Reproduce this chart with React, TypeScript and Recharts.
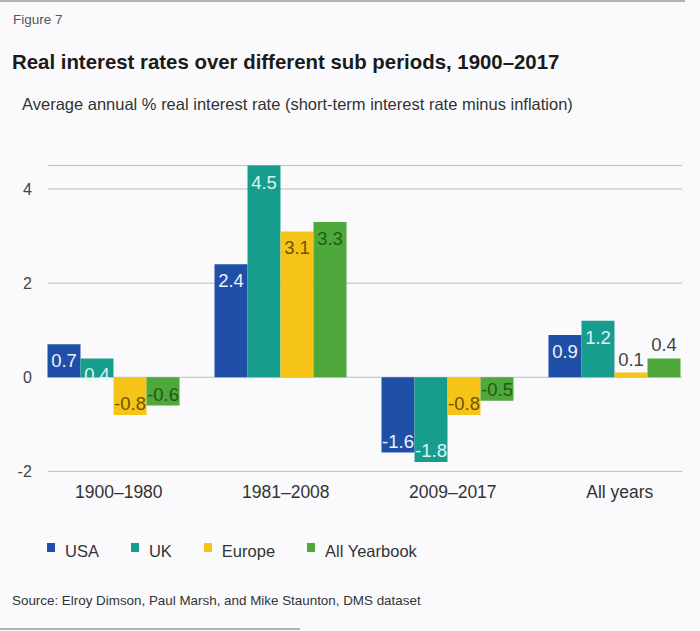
import React from "react";
import { BarChart, Bar, XAxis, YAxis, CartesianGrid, Legend, LabelList } from "recharts";

const categories = ["1900–1980", "1981–2008", "2009–2017", "All years"];
const usa = [0.7, 2.4, -1.6, 0.9];
const uk = [0.4, 4.5, -1.8, 1.2];
const europe = [-0.8, 3.1, -0.8, 0.1];
const allYearbook = [-0.6, 3.3, -0.5, 0.4];
const yTicks = [-2, 0, 2, 4];

const data = categories.map((c, i) => ({
  period: c,
  USA: usa[i],
  UK: uk[i],
  Europe: europe[i],
  "All Yearbook": allYearbook[i],
}));

const FONT = '"Liberation Sans", Arial, sans-serif';

const series = [
  { key: "USA", color: "#1f4fa6", labelColor: "#eef2fb", outsideBelow: 0.3 },
  { key: "UK", color: "#169d8e", labelColor: "#dff4f0", outsideBelow: 0.3 },
  { key: "Europe", color: "#f5c416", labelColor: "#6e5300", outsideBelow: 0.5 },
  { key: "All Yearbook", color: "#4fa83b", labelColor: "#245a18", outsideBelow: 0.5 },
];

const makeLabel = (s: any) => (props: any) => {
  const { x, y, width, height, value } = props;
  const top = Math.min(y, y + height);
  const bottom = Math.max(y, y + height);
  const cx = x + width / 2;
  let ty: number;
  let fill = s.labelColor;
  if (value >= 0) {
    if (value < s.outsideBelow) {
      ty = top - 7;
      fill = "#444";
    } else {
      ty = top + 23;
    }
  } else {
    ty = bottom - 5;
  }
  return (
    <text x={cx} y={ty} textAnchor="middle" fontSize={18.5} fontFamily={FONT} fill={fill}>
      {value}
    </text>
  );
};

const renderLegend = (props: any) => {
  const payload = props.payload || [];
  const order = series.map((s) => s.key);
  const items = [...payload].sort((a: any, b: any) => order.indexOf(a.value) - order.indexOf(b.value));
  return (
    <div style={{ display: "flex", alignItems: "flex-start", paddingLeft: 47, fontFamily: FONT, fontSize: 16.5, lineHeight: "24px", color: "#333" }}>
      {items.map((p: any) => (
        <div key={p.value} style={{ display: "flex", alignItems: "flex-start", marginRight: 32 }}>
          <span style={{ display: "inline-block", width: 8, height: 9, marginTop: 4, marginRight: 10, background: p.color }} />
          <span>{p.value}</span>
        </div>
      ))}
    </div>
  );
};

export default function App() {
  return (
    <div style={{ position: "absolute", left: 0, top: 0, width: 700, height: 631, background: "#fafafd", overflow: "hidden" }}>
      <svg width={700} height={631} style={{ position: "absolute", left: 0, top: 0 }}>
        <line x1={0} y1={1} x2={685} y2={1} stroke="#9a9a9a" strokeWidth={1.5} />
        <line x1={0} y1={629} x2={300} y2={629} stroke="#9a9a9a" strokeWidth={1.5} />
        <text x={13} y={24} fontFamily={FONT} fontSize={13.5} fill="#555">Figure 7</text>
        <text x={12} y={69} fontFamily={FONT} fontSize={20.4} fontWeight="bold" fill="#1a1a1a">
          Real interest rates over different sub periods, 1900–2017
        </text>
        <text x={22} y={110} fontFamily={FONT} fontSize={16.5} fill="#333">
          Average annual % real interest rate (short-term interest rate minus inflation)
        </text>
        <text x={12} y={605} fontFamily={FONT} fontSize={13.4} fill="#333">
          Source:  Elroy Dimson, Paul Marsh, and Mike Staunton, DMS dataset
        </text>
      </svg>
      <div style={{ position: "absolute", left: 0, top: 0 }}>
        <BarChart
          width={700}
          height={631}
          data={data}
          margin={{ top: 165.5, right: 1.7, left: 0, bottom: 0 }}
          barCategoryGap="10.3%"
          barGap={0}
        >
          <CartesianGrid x={48} width={634} vertical={false} stroke="#bdbdbd" />
          <XAxis
            dataKey="period"
            height={159.6}
            axisLine={false}
            tickLine={false}
            tickSize={0}
            tickMargin={14}
            dx={5}
            tick={{ fontSize: 17.5, fill: "#333", fontFamily: FONT }}
          />
          <YAxis
            width={30.3}
            domain={[-2, 4.5]}
            ticks={yTicks}
            axisLine={false}
            tickLine={false}
            tickSize={0}
            tickMargin={0}
            dx={1.5}
            tick={{ fontSize: 16, fill: "#444", fontFamily: FONT }}
          />
          <Legend
            layout="horizontal"
            verticalAlign="middle"
            align="center"
            content={renderLegend}
            wrapperStyle={{ left: 0, top: 539, width: 700 }}
          />
          {series.map((s) => (
            <Bar key={s.key} dataKey={s.key} fill={s.color} isAnimationActive={false}>
              <LabelList dataKey={s.key} content={makeLabel(s)} />
            </Bar>
          ))}
        </BarChart>
      </div>
    </div>
  );
}
